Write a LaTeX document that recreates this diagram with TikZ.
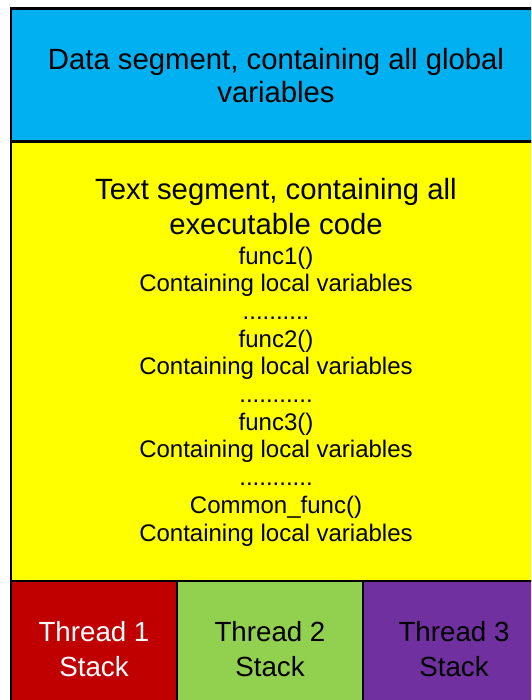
\documentclass[tikz,border=0pt]{standalone}
\usepackage{fontspec}
\setmainfont{Liberation Sans}
\definecolor{segblue}{HTML}{00B0F0}
\definecolor{segyellow}{HTML}{FFFF00}
\definecolor{segred}{HTML}{C00000}
\definecolor{seggreen}{HTML}{92D050}
\definecolor{segpurple}{HTML}{7030A0}
\tikzset{
  region/.style={draw=black, line width=2.6pt},
  big/.style={anchor=base, inner sep=0pt, font=\fontsize{29.3}{35}\selectfont},
  thr/.style={anchor=base, inner sep=0pt, font=\fontsize{27.7}{35}\selectfont},
  small/.style={anchor=base, inner sep=0pt, font=\fontsize{24}{28}\selectfont},
}
\begin{document}
\begin{tikzpicture}[x=1pt,y=-1pt]
\useasboundingbox (0,0) rectangle (531,700);
\clip (0,0) rectangle (531,700);
% regions
\filldraw[region, fill=segblue] (11,8.5) rectangle (543,141.5);
\filldraw[region, fill=segyellow] (11,141.5) rectangle (543,581);
\filldraw[region, fill=segred] (11,581) rectangle (177,712);
\filldraw[region, fill=seggreen] (177,581) rectangle (363,712);
\filldraw[region, fill=segpurple] (363,581) rectangle (543,712);
% data segment
\node[big] (d1) at (276,70) {Data segment, containing all global};
\node[big] (d2) at (276,102.7) {variables};
% text segment
\node[big] (t1) at (276,200) {Text segment, containing all};
\node[big] (t2) at (276,235) {executable code};
\node[small] (f1) at (276,264) {func1()};
\node[small] (c1) at (276,291.7) {Containing local variables};
\node[small] (p1) at (276,319.4) {..........};
\node[small] (f2) at (276,347.1) {func2()};
\node[small] (c2) at (276,374.8) {Containing local variables};
\node[small] (p2) at (276,402.5) {...........};
\node[small] (f3) at (276,430.2) {func3()};
\node[small] (c3) at (276,457.9) {Containing local variables};
\node[small] (p3) at (276,485.6) {...........};
\node[small] (f4) at (276,513.3) {Common\_func()};
\node[small] (c4) at (276,541) {Containing local variables};
% threads
\node[thr, text=white] (a1) at (94,641.7) {Thread 1};
\node[thr, text=white] (a2) at (94,676.7) {Stack};
\node[thr] (b1) at (270,641.7) {Thread 2};
\node[thr] (b2) at (270,676.7) {Stack};
\node[thr] (e1) at (454,641.7) {Thread 3};
\node[thr] (e2) at (454,676.7) {Stack};
\end{tikzpicture}
\end{document}
